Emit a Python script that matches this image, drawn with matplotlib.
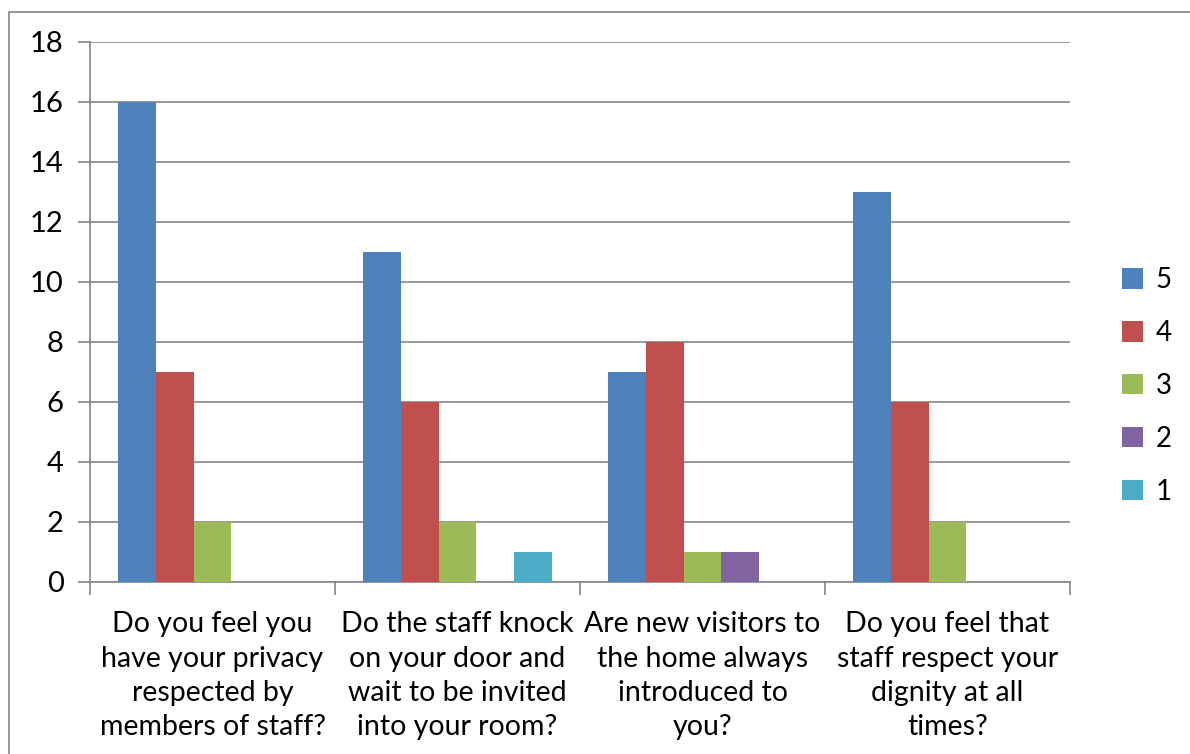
import matplotlib.pyplot as plt
import numpy as np
from matplotlib.patches import Rectangle

# Survey responses (count of ratings per question)
questions = [
    "Do you feel you\nhave your privacy\nrespected by\nmembers of staff?",
    "Do the staff knock\non your door and\nwait to be invited\ninto your room?",
    "Are new visitors to\nthe home always\nintroduced to\nyou?",
    "Do you feel that\nstaff respect your\ndignity at all\ntimes?",
]
series_names = ["5", "4", "3", "2", "1"]
rating5 = [16, 11, 7, 13]
rating4 = [7, 6, 8, 6]
rating3 = [2, 2, 1, 2]
rating2 = [0, 0, 1, 0]
rating1 = [0, 1, 0, 0]
colors = ["#4F81BD", "#C0504D", "#9BBB59", "#8064A2", "#4BACC6"]

plt.rcParams['font.family'] = ['Lato', 'DejaVu Sans']

fig = plt.figure(figsize=(11.9, 7.54), dpi=100)
ax = fig.add_axes([90 / 1190, (754 - 582) / 754, 980 / 1190, 540 / 754])

# outer chart border
fig.patches.append(Rectangle((9 / 1190, -0.01), 1.2, (754 - 12) / 754 + 0.01,
                             transform=fig.transFigure, fill=False,
                             edgecolor="#868686", linewidth=1.2))

values = [rating5, rating4, rating3, rating2, rating1]
x = np.arange(len(questions)) + 0.5
width = 1 / 6.5
for i, (name, vals, c) in enumerate(zip(series_names, values, colors)):
    ax.bar(x + (i - 2) * width, vals, width, color=c, label=name, zorder=3)

ax.set_xlim(0, 4)
ax.set_ylim(0, 18)
ax.set_yticks(range(0, 19, 2))
ax.grid(axis='y', color="#868686", linewidth=1.2, zorder=0)

ax.set_xticks(range(0, 5))
ax.set_xticklabels([])
ax.set_xticks(x, minor=True)
ax.set_xticklabels(questions, minor=True, fontsize=20.5, linespacing=1.4)
ax.tick_params(axis='x', which='major', length=9, width=1.2, color="#868686")
ax.tick_params(axis='x', which='minor', length=0, pad=21)
ax.tick_params(axis='y', length=9, width=1.2, color="#868686", labelsize=21, pad=10)

for s in ['top', 'right']:
    ax.spines[s].set_visible(False)
for s in ['left', 'bottom']:
    ax.spines[s].set_color("#868686")
    ax.spines[s].set_linewidth(1.2)

ax.legend(loc='center left', bbox_to_anchor=(1.028, 0.363), frameon=False,
          fontsize=20, handlelength=0.75, handleheight=0.75, labelspacing=0.97,
          handletextpad=0.45)

plt.savefig("out.png", dpi=100)
